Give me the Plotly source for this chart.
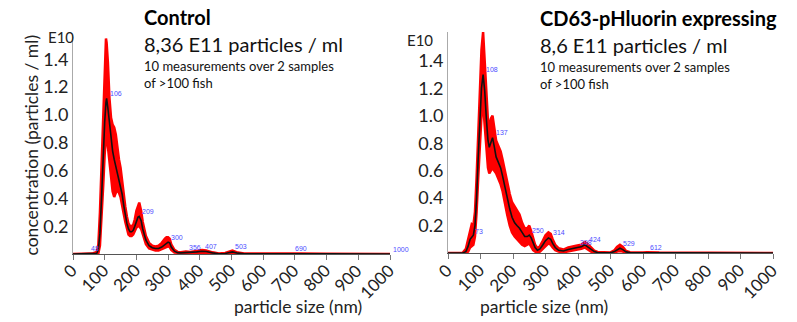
import plotly.graph_objects as go

# ---------------- data ----------------
ctrl_x = [0, 60, 75, 80, 85, 90, 95, 100, 104, 106, 110, 115, 120, 125, 130, 135, 140, 145, 150, 155,
          160, 165, 170, 175, 180, 185, 190, 195, 200, 205, 209, 215, 220, 230, 240, 250, 260, 270, 280, 290,
          295, 300, 305, 310, 320, 330, 340, 356, 370, 390, 407, 420, 440, 460, 480, 503, 520, 540, 600, 650,
          690, 720, 800, 1000]
ctrl_mean = [0, 0, 0.005, 0.03, 0.15, 0.4, 0.7, 0.95, 1.09, 1.12, 1.05, 0.93, 0.82, 0.74, 0.68, 0.63, 0.58, 0.54, 0.5, 0.43,
             0.35, 0.28, 0.22, 0.18, 0.16, 0.16, 0.17, 0.2, 0.24, 0.265, 0.27, 0.24, 0.18, 0.1, 0.06, 0.045, 0.04, 0.04, 0.05, 0.07,
             0.08, 0.085, 0.08, 0.05, 0.02, 0.01, 0.008, 0.01, 0.008, 0.015, 0.02, 0.018, 0.008, 0.002, 0.004, 0.015, 0.006, 0.002, 0.002, 0.003,
             0.006, 0.002, 0.001, 0]
ctrl_lo = [0, 0, 0, 0.005, 0.06, 0.22, 0.48, 0.72, 0.84, 0.86, 0.82, 0.7, 0.56, 0.45, 0.41, 0.44, 0.46, 0.44, 0.41, 0.35,
           0.29, 0.23, 0.18, 0.14, 0.13, 0.13, 0.14, 0.16, 0.19, 0.2, 0.2, 0.18, 0.14, 0.07, 0.04, 0.03, 0.025, 0.025, 0.03, 0.045,
           0.05, 0.055, 0.05, 0.03, 0.01, 0.005, 0.004, 0.005, 0.004, 0.008, 0.01, 0.01, 0.004, 0, 0, 0.005, 0.002, 0, 0, 0,
           0.002, 0, 0, 0]
ctrl_hi = [0, 0.003, 0.015, 0.07, 0.3, 0.62, 0.98, 1.35, 1.55, 1.52, 1.38, 1.12, 0.98, 0.93, 0.91, 0.86, 0.76, 0.68, 0.62, 0.52,
           0.42, 0.34, 0.27, 0.22, 0.2, 0.2, 0.21, 0.25, 0.31, 0.35, 0.37, 0.31, 0.23, 0.13, 0.08, 0.06, 0.055, 0.06, 0.08, 0.11,
           0.12, 0.12, 0.11, 0.07, 0.03, 0.015, 0.012, 0.018, 0.014, 0.022, 0.028, 0.026, 0.012, 0.004, 0.008, 0.025, 0.01, 0.004, 0.004, 0.005,
           0.009, 0.004, 0.002, 0.001]
ctrl_peak_x = [48, 106, 209, 300, 356, 407, 503, 690, 1000]
ctrl_peak_y = [0.005, 1.12, 0.27, 0.085, 0.01, 0.02, 0.015, 0.006, 0]

cd_x = [0, 45, 55, 62, 68, 73, 78, 83, 88, 93, 98, 103, 108, 113, 118, 123, 127, 132, 137, 142,
        148, 155, 162, 168, 175, 182, 190, 197, 205, 212, 220, 228, 236, 244, 250, 256, 262, 268, 275, 283,
        292, 300, 309, 316, 322, 330, 340, 355, 370, 385, 398, 410, 421, 430, 440, 450, 460, 480, 500, 512,
        520, 529, 538, 548, 560, 600, 612, 650, 700, 1000]
cd_mean = [0, 0, 0.01, 0.05, 0.1, 0.12, 0.13, 0.2, 0.4, 0.7, 0.98, 1.2, 1.3, 1.18, 0.98, 0.82, 0.77, 0.81, 0.84, 0.78,
           0.7, 0.66, 0.62, 0.56, 0.48, 0.4, 0.32, 0.26, 0.22, 0.2, 0.18, 0.15, 0.12, 0.12, 0.13, 0.11, 0.07, 0.04, 0.02, 0.03,
           0.06, 0.09, 0.11, 0.1, 0.07, 0.04, 0.02, 0.015, 0.025, 0.035, 0.04, 0.045, 0.06, 0.045, 0.025, 0.01, 0.004, 0.002, 0.002, 0.01,
           0.025, 0.035, 0.025, 0.008, 0.003, 0.002, 0.003, 0.001, 0.001, 0]
cd_lo = [0, 0, 0, 0.01, 0.04, 0.05, 0.06, 0.12, 0.3, 0.55, 0.8, 1.0, 1.08, 0.98, 0.8, 0.62, 0.58, 0.6, 0.62, 0.6,
         0.58, 0.54, 0.5, 0.45, 0.38, 0.28, 0.2, 0.15, 0.12, 0.1, 0.08, 0.06, 0.05, 0.06, 0.07, 0.05, 0.02, 0.01, 0.005, 0.01,
         0.03, 0.05, 0.07, 0.06, 0.04, 0.02, 0.01, 0.005, 0.012, 0.02, 0.025, 0.03, 0.04, 0.025, 0.01, 0.003, 0, 0, 0, 0.002,
         0.01, 0.015, 0.01, 0, 0, 0, 0, 0, 0, 0]
cd_hi = [0, 0.002, 0.03, 0.1, 0.18, 0.21, 0.2, 0.3, 0.55, 0.9, 1.22, 1.48, 1.61, 1.4, 1.15, 0.96, 0.93, 0.98, 1.0, 0.92,
         0.82, 0.78, 0.74, 0.68, 0.6, 0.5, 0.43, 0.37, 0.34, 0.32, 0.28, 0.22, 0.18, 0.18, 0.2, 0.16, 0.1, 0.06, 0.035, 0.05,
         0.09, 0.13, 0.15, 0.14, 0.1, 0.06, 0.035, 0.025, 0.04, 0.05, 0.055, 0.06, 0.08, 0.065, 0.04, 0.018, 0.008, 0.004, 0.004, 0.02,
         0.045, 0.06, 0.045, 0.015, 0.006, 0.004, 0.006, 0.003, 0.002, 0.001]
cd_peak_x = [73, 108, 137, 250, 314, 398, 424, 529, 612]
cd_peak_y = [0.12, 1.30, 0.84, 0.13, 0.11, 0.04, 0.06, 0.035, 0.005]

x_ticks = [0, 100, 200, 300, 400, 500, 600, 700, 800, 900, 1000]
y_ticks = [0.2, 0.4, 0.6, 0.8, 1.0, 1.2, 1.4]

panels = [
    dict(title="Control", conc="8,36 E11 particles / ml", x=ctrl_x, mean=ctrl_mean, lo=ctrl_lo, hi=ctrl_hi,
         px=ctrl_peak_x, py=ctrl_peak_y),
    dict(title="CD63-pHluorin expressing", conc="8,6 E11 particles / ml", x=cd_x, mean=cd_mean, lo=cd_lo, hi=cd_hi,
         px=cd_peak_x, py=cd_peak_y),
]

# ---------------- layout helpers (pixel -> paper) ----------------
W, H = 797, 322
def fx(p): return p / W
def fy(p): return 1 - p / H

FONT = "Lato"
fig = go.Figure()

for i, p in enumerate(panels):
    xa = "x" if i == 0 else "x2"
    ya = "y" if i == 0 else "y2"
    poly_x = list(p["x"]) + list(p["x"])[::-1]
    poly_y = list(p["hi"]) + list(p["lo"])[::-1]
    fig.add_trace(go.Scatter(x=poly_x, y=poly_y, fill="toself", fillcolor="#ff0000",
                             line=dict(color="#ff0000", width=2.5), mode="lines",
                             xaxis=xa, yaxis=ya, hoverinfo="skip", showlegend=False, cliponaxis=False))
    fig.add_trace(go.Scatter(x=p["x"], y=p["mean"], mode="lines",
                             line=dict(color="#111111", width=1.6),
                             xaxis=xa, yaxis=ya, showlegend=False))
    for xv, yv in zip(p["px"], p["py"]):
        fig.add_annotation(x=xv, y=yv, xref=xa, yref=ya, text=str(xv), showarrow=False,
                           xanchor="left", yanchor="middle", xshift=1, yshift=5,
                           font=dict(family="Liberation Sans", size=7, color="#4d4dff"))
    # rotated x tick labels
    for tv in x_ticks:
        fig.add_annotation(x=tv, y=fy(257), xref=xa, yref="paper", text=str(tv), showarrow=False,
                           textangle=-45, xanchor="right", yanchor="top", xshift=11,
                           font=dict(family=FONT, size=17, color="#222222"))

axis_common_x = dict(range=[0, 1000], tickvals=x_ticks, showticklabels=False, showline=True, automargin=False,
                     linecolor="#555555", linewidth=1, ticks="outside", ticklen=5, tickcolor="#777777",
                     showgrid=False, zeroline=False)
axis_common_y = dict(tickvals=y_ticks, ticktext=[f"{v:.1f}" for v in y_ticks], showline=True, automargin=False,
                     linecolor="#aaaaaa", linewidth=1, ticks="", showgrid=False, zeroline=False,
                     tickfont=dict(family=FONT, size=18, color="#222222"))

fig.update_layout(
    width=W, height=H, margin=dict(l=0, r=0, t=0, b=0),
    paper_bgcolor="white", plot_bgcolor="white",
    xaxis=dict(domain=[fx(73), fx(390)], anchor="y", **axis_common_x),
    yaxis=dict(domain=[fy(254), fy(35)], range=[0, 1.575], anchor="x", **axis_common_y),
    xaxis2=dict(domain=[fx(448), fx(773)], anchor="y2", **axis_common_x),
    yaxis2=dict(domain=[fy(253), fy(32)], range=[0, 1.61], anchor="x2", **axis_common_y),
)

# axis titles and exponent labels
fig.add_annotation(x=fx(18), y=fy(145), xref="paper", yref="paper", text="concentration (particles / ml)",
                   textangle=-90, showarrow=False, font=dict(family=FONT, size=17.5, color="#222222"))
for tx in (232, 610):
    fig.add_annotation(x=fx(tx), y=fy(306), xref="paper", yref="paper", text="particle size (nm)",
                       showarrow=False, yanchor="middle", font=dict(family=FONT, size=17.5, color="#222222"))
for ex, ey in [(46, 26), (420, 29)]:
    fig.add_annotation(x=fx(ex), y=fy(ey), xref="paper", yref="paper", text="E10", showarrow=False,
                       font=dict(family=FONT, size=15, color="#222222"))

# panel titles
for p, tx, ty in [(panels[0], 142, 17), (panels[1], 538, 18)]:
    fig.add_annotation(x=fx(tx), y=fy(ty), xref="paper", yref="paper", text=f"<b>{p['title']}</b>",
                       showarrow=False, xanchor="left", yanchor="middle",
                       font=dict(family=FONT, size=20, color="#000000"))
    fig.add_annotation(x=fx(tx), y=fy(ty + 27), xref="paper", yref="paper", text=p["conc"],
                       showarrow=False, xanchor="left", yanchor="middle",
                       font=dict(family=FONT, size=20, color="#111111"))
    fig.add_annotation(x=fx(tx), y=fy(ty + 49), xref="paper", yref="paper",
                       text="10 measurements over 2 samples", showarrow=False, xanchor="left", yanchor="middle",
                       font=dict(family=FONT, size=13, color="#111111"))
    fig.add_annotation(x=fx(tx), y=fy(ty + 66), xref="paper", yref="paper",
                       text="of &gt;100 fish", showarrow=False, xanchor="left", yanchor="middle",
                       font=dict(family=FONT, size=13, color="#111111"))

fig.write_html("out.html", config={"displayModeBar": False},
               post_script="document.body.style.margin='0';document.body.style.padding='0';")
